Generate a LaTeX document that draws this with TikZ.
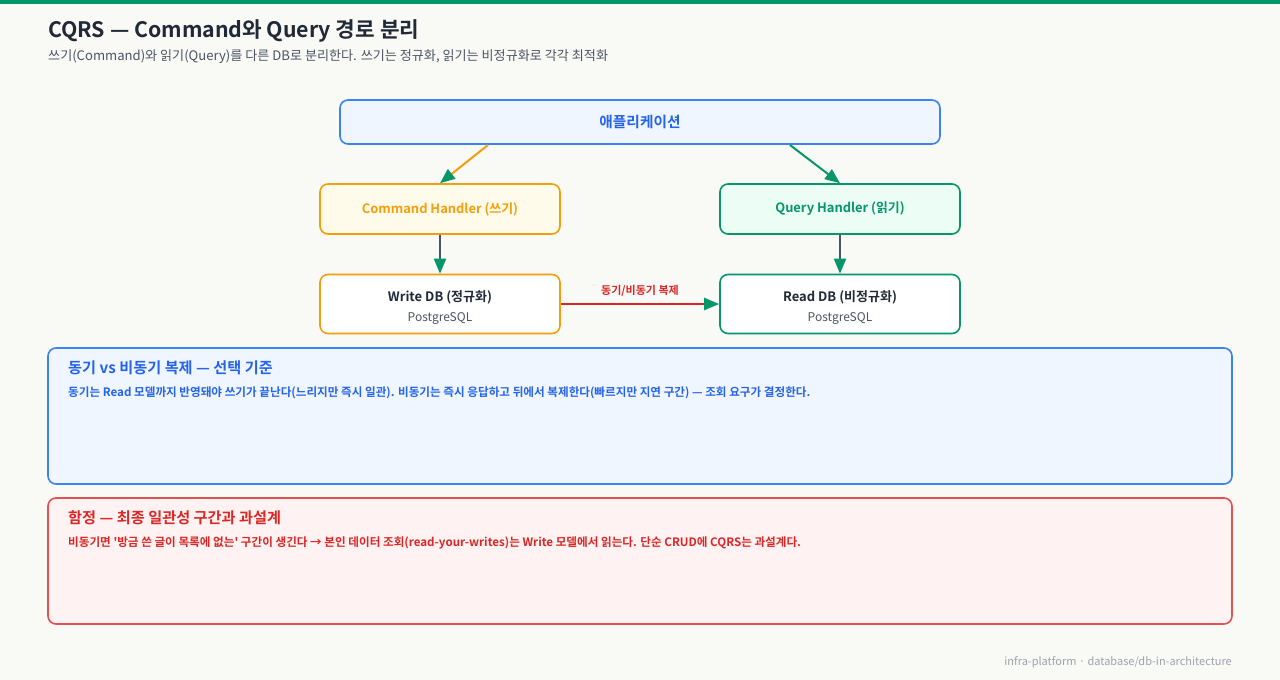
\documentclass[tikz,border=0pt]{standalone}
\usepackage{fontspec}
\setmainfont{Noto Sans CJK KR}[BoldFont={Noto Sans CJK KR Bold}]
\usetikzlibrary{arrows.meta}

\definecolor{pagebg}{HTML}{F9F9F6}
\definecolor{topbar}{HTML}{059669}
\definecolor{inkdark}{HTML}{1F2937}
\definecolor{inkgray}{HTML}{4B5563}
\definecolor{blueln}{HTML}{3B82F6}
\definecolor{bluetx}{HTML}{2563EB}
\definecolor{bluebg}{HTML}{EFF6FF}
\definecolor{orangeln}{HTML}{F59E0B}
\definecolor{orangebg}{HTML}{FFFBEB}
\definecolor{greenln}{HTML}{059669}
\definecolor{greenbg}{HTML}{ECFDF5}
\definecolor{redln}{HTML}{DC2626}
\definecolor{redbg}{HTML}{FEF2F2}
\definecolor{footgray}{HTML}{9CA3AF}

\newcommand{\fsz}[1]{\fontsize{#1}{#1}\selectfont}

\tikzset{box/.style={rectangle,rounded corners=8pt,line width=1.6pt,inner sep=0pt}}
\tikzset{hbox/.style={box,minimum width=240pt,minimum height=50pt,font=\bfseries\fsz{12.9}}}
\tikzset{dbbox/.style={box,fill=white,minimum width=240pt,minimum height=59pt}}
\tikzset{dbname/.style={inner sep=0pt,text=inkdark,font=\bfseries\fsz{13}}}
\tikzset{dbeng/.style={inner sep=0pt,text=inkgray,font=\fsz{12}}}
\tikzset{note/.style={box,minimum width=1184pt}}
\tikzset{txt/.style={anchor=west,inner sep=0pt}}
\tikzset{flow/.style={line width=2pt,-{Triangle[length=15pt,width=12pt,color=greenln]}}}

\begin{document}
\begin{tikzpicture}[x=1pt,y=-1pt]
  \useasboundingbox (0,0) rectangle (1280,680);
  \fill[pagebg] (0,0) rectangle (1280,680);
  \fill[topbar] (0,0) rectangle (1280,4);

  \node[txt,text=inkdark,font=\bfseries\fsz{21.3}] (title) at (48,31) {CQRS — Command와 Query 경로 분리};
  \node[txt,text=inkgray,font=\fsz{13.1}] (sub) at (48,57) {쓰기(Command)와 읽기(Query)를 다른 DB로 분리한다. 쓰기는 정규화, 읽기는 비정규화로 각각 최적화};

  \node[box,draw=blueln,fill=bluebg,minimum width=600pt,minimum height=44pt,text=bluetx,font=\bfseries\fsz{14.7}] (app) at (640,122) {애플리케이션};
  \node[hbox,draw=orangeln,fill=orangebg,text=orangeln] (cmd) at (440,209) {\raisebox{-1pt}{Command Handler (쓰기)}};
  \node[hbox,draw=greenln,fill=greenbg,text=greenln] (qry) at (840,209) {\raisebox{-1pt}{Query Handler (읽기)}};
  \node[dbbox,draw=orangeln] (wdb) at (440,304) {};
  \node[dbname] (wdbname) at ([yshift=7pt]wdb.center) {Write DB (정규화)};
  \node[dbeng] (wdbeng) at ([yshift=-15pt]wdb.center) {PostgreSQL};
  \node[dbbox,draw=greenln] (rdb) at (840,304) {};
  \node[dbname] (rdbname) at ([yshift=7pt]rdb.center) {Read DB (비정규화)};
  \node[dbeng] (rdbeng) at ([yshift=-15pt]rdb.center) {PostgreSQL};

  \coordinate (appl) at (488,145);
  \coordinate (appr) at (790,145);
  \draw[flow,draw=orangeln] (appl) -- (cmd.north);
  \draw[flow,draw=greenln] (appr) -- (qry.north);
  \draw[flow,draw=inkgray] (cmd) -- (wdb);
  \draw[flow,draw=inkgray] (qry) -- (rdb);
  \draw[flow,draw=redln,line width=2.2pt] (wdb) -- node[above=6pt,inner sep=0pt,text=redln,font=\bfseries\fsz{11}] (sync) {동기/비동기 복제} (rdb);

  \node[note,draw=blueln,fill=bluebg,minimum height=136pt] (ntrade) at (640,416) {};
  \node[txt,text=bluetx,font=\bfseries\fsz{15.2}] (ntradehd) at (68,368) {동기 vs 비동기 복제 — 선택 기준};
  \node[txt,text=bluetx,font=\bfseries\fsz{11.6}] (ntradetx) at (68,393) {동기는 Read 모델까지 반영돼야 쓰기가 끝난다(느리지만 즉시 일관). 비동기는 즉시 응답하고 뒤에서 복제한다(빠르지만 지연 구간) — 조회 요구가 결정한다.};

  \node[note,draw=redln!80!white,fill=redbg,minimum height=126pt] (ntrap) at (640,561) {};
  \node[txt,text=redln,font=\bfseries\fsz{15.2}] (ntraphd) at (68,518) {함정 — 최종 일관성 구간과 과설계};
  \node[txt,text=redln,font=\bfseries\fsz{11.6}] (ntraptx) at (68,543) {비동기면 \textquotesingle 방금 쓴 글이 목록에 없는\textquotesingle{} 구간이 생긴다 → 본인 데이터 조회(read-your-writes)는 Write 모델에서 읽는다. 단순 CRUD에 CQRS는 과설계다.};

  \node[anchor=east,inner sep=0pt,text=footgray,font=\fsz{11}] (foot) at (1232,662) {infra-platform · database/db-in-architecture};
\end{tikzpicture}
\end{document}
